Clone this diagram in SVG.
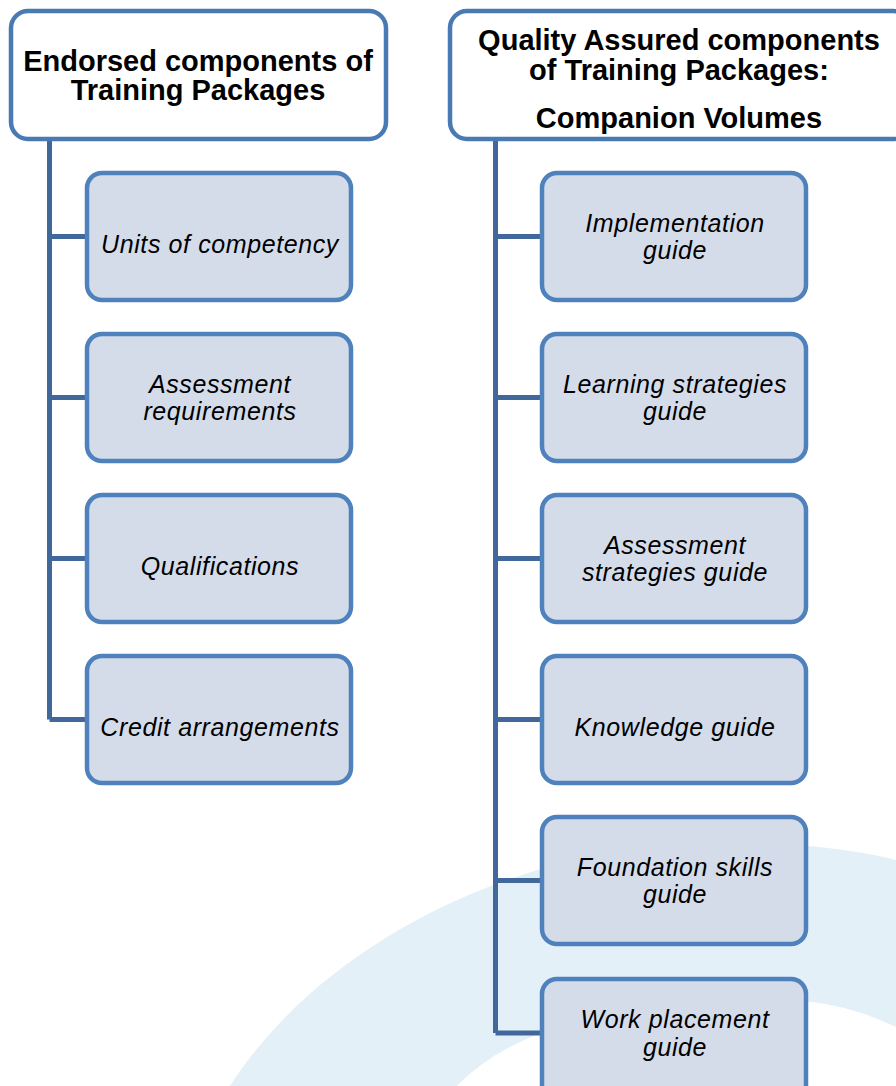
<svg xmlns="http://www.w3.org/2000/svg" width="896" height="1086" viewBox="0 0 896 1086">
<style>
.hdr{fill:#ffffff;stroke:#4a7ab4;stroke-width:4.5}
.box{fill:#d4dcea;stroke:#4f81bd;stroke-width:4.5}
.conn{stroke:#40689a;stroke-width:5;fill:none}
.ht{font-family:"Liberation Sans",Arial,sans-serif;font-weight:bold;font-size:29px;fill:#000;text-anchor:middle}
.ct{font-family:"Liberation Sans",Arial,sans-serif;font-style:italic;font-size:25px;letter-spacing:0.6px;fill:#000;text-anchor:middle}
</style>
<rect width="896" height="1086" fill="#ffffff"/>
<path id="swoosh" d="M 230 1086 C 330 930, 560 820, 800 845 C 840 849, 870 853, 896 860 L 896 1027 C 870 1015, 840 1003, 790 1000 C 650 995, 520 1020, 457 1086 Z" fill="#e4f0f7"/>
<g id="connectors">
<path class="conn" d="M49.5 140 V719.5 M49.5 236.5 H87 M49.5 397.5 H87 M49.5 558.5 H87 M49.5 719.5 H87"/>
<path class="conn" d="M495.5 140 V1033 M495.5 236.5 H542 M495.5 397.5 H542 M495.5 558.5 H542 M495.5 719.5 H542 M495.5 880.5 H542 M495.5 1033 H542"/>
</g>
<g id="hdr-left">
<rect class="hdr" x="11" y="11" width="375" height="128" rx="17"/>
<text class="ht" x="198" y="71">Endorsed components of</text>
<text class="ht" x="198" y="100">Training Packages</text>
</g>
<g id="hdr-right">
<rect class="hdr" x="450" y="11" width="460" height="128" rx="17"/>
<text class="ht" x="679" y="50">Quality Assured components</text>
<text class="ht" x="679" y="80">of Training Packages:</text>
<text class="ht" x="679" y="128">Companion Volumes</text>
</g>
<g id="l1"><rect class="box" x="87" y="173" width="264" height="127" rx="15"/><text class="ct" x="220" y="253">Units of competency</text></g>
<g id="l2"><rect class="box" x="87" y="334" width="264" height="127" rx="15"/><text class="ct" x="220" y="393">Assessment</text><text class="ct" x="220" y="420">requirements</text></g>
<g id="l3"><rect class="box" x="87" y="495" width="264" height="127" rx="15"/><text class="ct" x="220" y="575">Qualifications</text></g>
<g id="l4"><rect class="box" x="87" y="656" width="264" height="127" rx="15"/><text class="ct" x="220" y="736">Credit arrangements</text></g>
<g id="r1"><rect class="box" x="542" y="173" width="264" height="127" rx="15"/><text class="ct" x="675" y="232">Implementation</text><text class="ct" x="675" y="259">guide</text></g>
<g id="r2"><rect class="box" x="542" y="334" width="264" height="127" rx="15"/><text class="ct" x="675" y="393">Learning strategies</text><text class="ct" x="675" y="420">guide</text></g>
<g id="r3"><rect class="box" x="542" y="495" width="264" height="127" rx="15"/><text class="ct" x="675" y="554">Assessment</text><text class="ct" x="675" y="581">strategies guide</text></g>
<g id="r4"><rect class="box" x="542" y="656" width="264" height="127" rx="15"/><text class="ct" x="675" y="736">Knowledge guide</text></g>
<g id="r5"><rect class="box" x="542" y="817" width="264" height="127" rx="15"/><text class="ct" x="675" y="876">Foundation skills</text><text class="ct" x="675" y="903">guide</text></g>
<g id="r6"><rect class="box" x="542" y="979" width="264" height="127" rx="15"/><text class="ct" x="675" y="1028">Work placement</text><text class="ct" x="675" y="1056">guide</text></g>
</svg>
